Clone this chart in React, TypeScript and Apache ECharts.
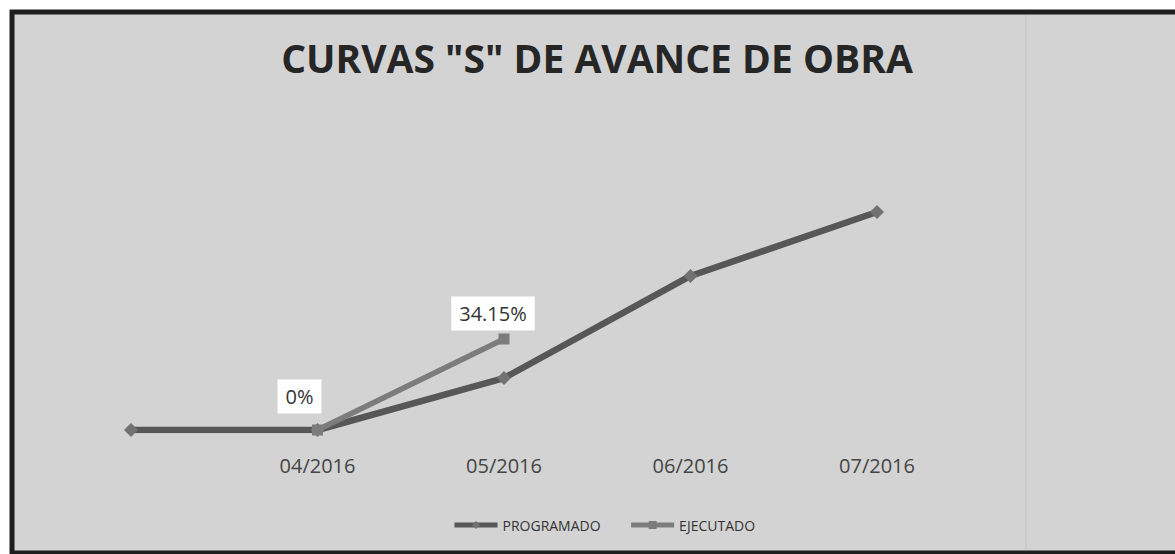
import React, { useEffect, useRef } from "react";
import * as echarts from "echarts";

const categories = ["", "04/2016", "05/2016", "06/2016", "07/2016"];
const programado = [0, 0, 19.5, 57.8, 81.8];
const ejecutado: (number | string)[] = ["-", 0, 34.15, "-", "-"];
const seriesNames = ["PROGRAMADO", "EJECUTADO"];
const titleText = 'CURVAS "S" DE AVANCE DE OBRA';

const labelOffsets: Record<number, [number, number]> = {
  1: [-18, -6],
  2: [-11, 2],
};

export default function App() {
  const ref = useRef<HTMLDivElement>(null);
  useEffect(() => {
    if (!ref.current) return;
    const chart = echarts.init(ref.current, null, { renderer: "svg" });
    const ejecutadoData = ejecutado.map((v, i) =>
      labelOffsets[i] ? { value: v, label: { offset: labelOffsets[i] } } : v
    );
    chart.setOption({
      animation: false,
      backgroundColor: "#ffffff",
      graphic: [
        {
          type: "rect",
          z: -10,
          shape: { x: 12, y: 12, width: 1200, height: 541 },
          style: { fill: "#d3d3d3", stroke: "#1e1e1e", lineWidth: 5 },
        },
        {
          type: "line",
          z: -9,
          shape: { x1: 1026, y1: 15, x2: 1026, y2: 550 },
          style: { stroke: "#c2c2c2", lineWidth: 1 },
        },
      ],
      title: {
        text: titleText,
        left: 592,
        top: 33,
        textAlign: "center",
        textStyle: {
          fontFamily: "'Open Sans', sans-serif",
          fontWeight: "bold",
          fontSize: 39,
          color: "#262626",
        },
      },
      legend: {
        data: seriesNames,
        left: 447,
        top: 513,
        itemWidth: 43,
        itemHeight: 10,
        itemGap: 28,
        lineStyle: { width: 5 },
        textStyle: { fontFamily: "'Open Sans', sans-serif", fontSize: 14, color: "#333" },
      },
      grid: { left: 131, right: 298, top: 163.5, bottom: 124, containLabel: false },
      xAxis: {
        type: "category",
        data: categories,
        boundaryGap: false,
        axisLine: { show: false },
        axisTick: { show: false },
        splitLine: { show: false },
        axisLabel: {
          margin: 25,
          fontFamily: "'Open Sans', sans-serif",
          fontSize: 20,
          color: "#454545",
        },
      },
      yAxis: {
        type: "value",
        min: 0,
        max: 100,
        show: false,
        splitLine: { show: false },
      },
      series: [
        {
          name: seriesNames[0],
          type: "line",
          data: programado,
          symbol: "diamond",
          symbolSize: 14,
          lineStyle: { color: "#575757", width: 6.5 },
          itemStyle: { color: "#727272" },
          z: 2,
        },
        {
          name: seriesNames[1],
          type: "line",
          data: ejecutadoData,
          symbol: "rect",
          symbolSize: 11,
          lineStyle: { color: "#7c7c7c", width: 5.5 },
          itemStyle: { color: "#7c7c7c" },
          z: 3,
          label: {
            show: true,
            position: "top",
            formatter: "{c}%",
            backgroundColor: "#ffffff",
            padding: [7, 8, 7, 8],
            fontFamily: "'Open Sans', sans-serif",
            fontSize: 20,
            color: "#333",
          },
        },
      ],
    });
    return () => chart.dispose();
  }, []);
  return (
    <div
      ref={ref}
      style={{ position: "absolute", left: 0, top: 0, width: 1175, height: 554 }}
    />
  );
}
